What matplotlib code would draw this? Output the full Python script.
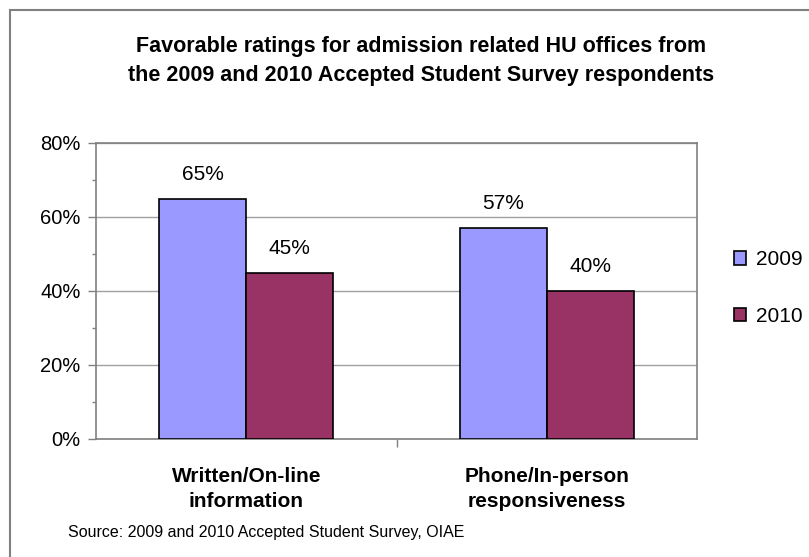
import matplotlib
matplotlib.use("Agg")
import matplotlib.pyplot as plt
import numpy as np
from matplotlib.patches import Rectangle
from matplotlib.ticker import MultipleLocator, FuncFormatter

categories = ["Written/On-line\ninformation", "Phone/In-person\nresponsiveness"]
series_names = ["2009", "2010"]
values_2009 = [65, 57]
values_2010 = [45, 40]
colors = ["#9999FF", "#993366"]

plt.rcParams['font.family'] = ['Liberation Sans', 'DejaVu Sans']

W, H = 809, 557
fig = plt.figure(figsize=(W / 100, H / 100), dpi=100)

# outer chart border
fig.patches.append(Rectangle((10 / W, -0.1), 1.2, 1 - 10 / H + 0.1, transform=fig.transFigure,
                             fill=False, edgecolor="#808080", linewidth=1.5, zorder=0))

left, right = 96 / W, 697 / W
top, bottom = 1 - 143 / H, 1 - 439 / H
ax = fig.add_axes([left, bottom, right - left, top - bottom])

x = np.arange(len(categories))
bw = 0.29
for i, (vals, name, c) in enumerate(zip([values_2009, values_2010], series_names, colors)):
    pos = x - bw / 2 + i * bw
    ax.bar(pos, vals, width=bw, color=c, edgecolor="black", linewidth=1.2, label=name, zorder=3)
    for p, v in zip(pos, vals):
        ax.text(p, v + 4, f"{v}%", ha="center", va="bottom", fontsize=15, zorder=4)

ax.set_xlim(-0.5, 1.5)
ax.set_ylim(0, 80)
ax.yaxis.set_major_locator(MultipleLocator(20))
ax.yaxis.set_minor_locator(MultipleLocator(10))
ax.yaxis.set_major_formatter(FuncFormatter(lambda v, p: f"{int(v)}%"))
ax.grid(axis="y", which="major", color="#a0a0a0", linewidth=1, zorder=0)
ax.set_xticks([0.5])
ax.set_xticklabels([""])
ax.tick_params(axis="x", length=6, color="#808080", width=1)
ax.tick_params(axis="y", which="major", length=6, color="#808080", width=1, labelsize=14.5, pad=5)
ax.tick_params(axis="y", which="minor", length=3, color="#808080", width=1)
for s in ["left", "bottom", "right", "top"]:
    ax.spines[s].set_color("#808080")
    ax.spines[s].set_linewidth(1.2)

for xi, cat in zip(x, categories):
    ax.text(xi, -7.7, cat, ha="center", va="top", fontsize=15, fontweight="bold",
            linespacing=1.4, transform=ax.transData)

fig.text(421 / W, 1 - 61 / H,
         "Favorable ratings for admission related HU offices from\nthe 2009 and 2010 Accepted Student Survey respondents",
         ha="center", va="center", fontsize=15.5, fontweight="bold", linespacing=1.55)

fig.text(68 / W, 1 - 533 / H, "Source: 2009 and 2010 Accepted Student Survey, OIAE",
         ha="left", va="center", fontsize=11.5)

leg = ax.legend(loc="center left", bbox_to_anchor=(1.03, 0.51), frameon=False, fontsize=15,
                handlelength=0.6, handleheight=0.6, handletextpad=0.45, labelspacing=1.8)
for h in leg.legend_handles:
    h.set_edgecolor("black")
    h.set_linewidth(1.2)

fig.savefig("out.png", dpi=100)
